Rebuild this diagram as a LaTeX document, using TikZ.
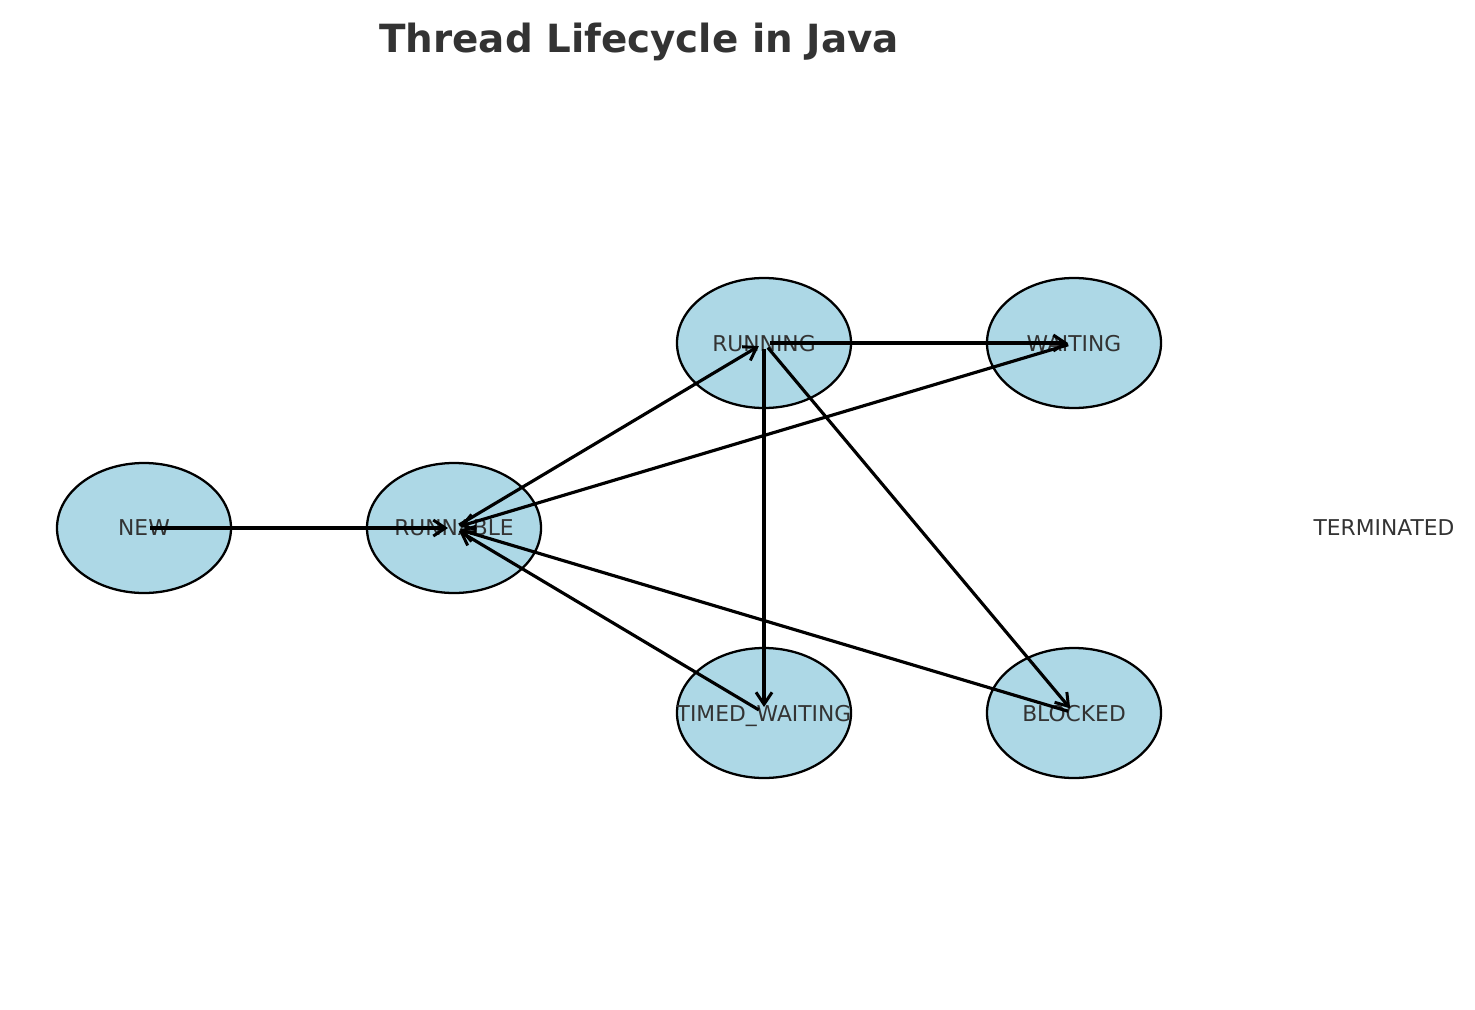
\documentclass[tikz,border=0pt]{standalone}
\usepackage{fontspec}
\setmainfont{DejaVu Sans}
\usepackage{tikz}
\usetikzlibrary{arrows.meta}
\definecolor{statefill}{HTML}{ADD8E6}
\definecolor{labelgray}{HTML}{333333}
\tikzset{
  statebody/.style = {fill = statefill, draw = black, line width = 1.3pt},
  statename/.style = {text = labelgray, inner sep = 0pt, text depth = 0pt, font = \fontsize{12.4}{14}\selectfont},
  trans/.style = {-{Straight Barb[length=2.4mm, width=3.2mm, line width=1.7pt]}, line width = 1.8pt, shorten <= 0.12cm, shorten >= 0.12cm}
}

\begin{document}
\begin{tikzpicture}[x = 0.2mm, y = -0.2mm]
     \useasboundingbox (0,0) rectangle (1475,1010);
     \node [font = \fontsize{22.1}{26}\bfseries, text = labelgray, anchor = base] (title) at (639, 52) {Thread Lifecycle in Java};
     \foreach \px/\py in {144/528, 454/528, 764/343, 1074/343, 764/713, 1074/713}
         \draw [statebody] (\px,\py) ellipse (1.74cm and 1.3cm);
     \node [statename] (new) at (144, 528) {NEW};
     \node [statename] (runnable) at (454, 528) {RUNNABLE};
     \node [statename] (running) at (764, 343) {RUNNING};
     \node [statename] (waiting) at (1074, 343) {WAITING};
     \node [statename] (timed) at (764, 713) {TIMED\_WAITING};
     \node [statename] (blocked) at (1074, 713) {BLOCKED};
     \node [statename] (terminated) at (1384, 528) {TERMINATED};
     \draw [trans] (new.center) -- (runnable.center);
     \draw [trans] (runnable.center) -- (running.center);
     \draw [trans] (running.center) -- (waiting.center);
     \draw [trans] (running.center) -- (timed.center);
     \draw [trans] (running.center) -- (blocked.center);
     \draw [trans] (waiting.center) -- (runnable.center);
     \draw [trans] (timed.center) -- (runnable.center);
     \draw [trans] (blocked.center) -- (runnable.center);
 \end{tikzpicture}
\end{document}
